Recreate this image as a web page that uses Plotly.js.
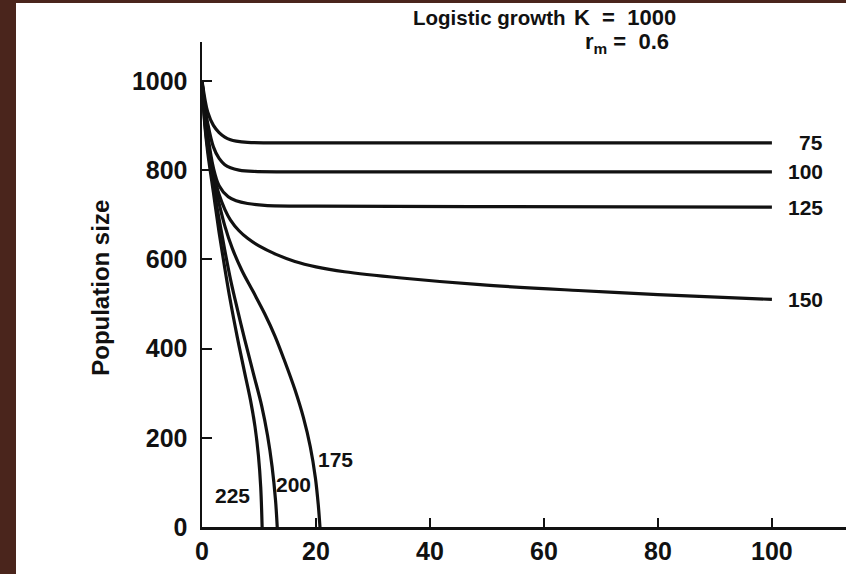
<!DOCTYPE html>
<html>
<head>
<meta charset="utf-8">
<script src="https://cdn.plot.ly/plotly-3.0.1.min.js"></script>
<style>
  html, body { margin: 0; padding: 0; background: #4a251c; width: 846px; height: 574px; overflow: hidden; }
  #chart { position: absolute; left: 16px; top: 3px; width: 830px; height: 571px; background: #fff; }
</style>
</head>
<body>
<div id="chart"></div>
<script>
// Harvest levels (curve labels)
const harvestLabels = ["75", "100", "125", "150", "175", "200", "225"];

// Time values and population size, one pair per curve
const t75  = [0, 0.5, 1, 2, 3, 4, 5, 6, 8, 12, 40, 70, 100];
const n75  = [1000, 960, 930, 900, 884, 874, 868, 865, 862, 861, 861, 861, 861];

const t100 = [0, 0.5, 1, 2, 3, 4, 5, 6.5, 9, 15, 40, 70, 100];
const n100 = [1000, 945, 905, 852, 826, 812, 805, 800, 797, 796, 796, 796, 796];

const t125 = [0, 0.5, 1, 2, 3, 4.6, 6, 8, 11, 20, 50, 100];
const n125 = [1000, 935, 880, 805, 765, 740, 731, 725, 721, 719, 718, 717];

const t150 = [0, 0.5, 1, 2, 3, 4, 5, 6.5, 8, 10, 13, 16.3, 20, 25, 35, 48.8, 66, 80, 100];
const n150 = [1000, 925, 868, 795, 745, 712, 688, 664, 647, 630, 611, 595, 583, 572, 558, 543, 530, 521, 510];

const t175 = [0, 0.5, 1, 2, 3, 4, 5.3, 7, 9, 11, 12.8, 14.5, 16.3, 17.8, 19, 19.9, 20.4, 20.7];
const n175 = [1000, 915, 860, 782, 725, 675, 625, 575, 527, 478, 428, 372, 308, 245, 180, 110, 50, 0];

const t200 = [0, 0.5, 1, 2, 3, 4, 5, 5.8, 7.5, 9, 10.5, 11.5, 12.3, 12.9, 13.2];
const n200 = [1000, 905, 850, 765, 690, 620, 555, 510, 420, 345, 270, 205, 135, 60, 0];

const t225 = [0, 0.5, 1, 2, 3, 4, 4.9, 6.2, 7.5, 8.5, 9.3, 9.9, 10.3, 10.55];
const n225 = [1000, 900, 840, 750, 660, 580, 512, 425, 345, 285, 225, 160, 90, 0];

// Label anchor points (data coordinates)
const endLabelX = 109.3;
const endLabelY = [861, 796, 717, 510];
const lowLabelX = [23.5, 16.1, 5.4];
const lowLabelY = [152, 96, 70];

// Axis ticks
const xTicks = [0, 20, 40, 60, 80, 100];
const yTicks = [0, 200, 400, 600, 800, 1000];

const FONT = "'Liberation Sans', Arial, Helvetica, sans-serif";
const INK = "#111111";
const NB = "\u00A0";

const series = [[t75, n75], [t100, n100], [t125, n125], [t150, n150], [t175, n175], [t200, n200], [t225, n225]];
const traces = series.map((s, i) => ({
  x: s[0], y: s[1], type: "scatter", mode: "lines",
  name: harvestLabels[i],
  line: { color: INK, width: 3.2, shape: "spline", smoothing: 1 },
  hoverinfo: "skip", cliponaxis: false
}));

const annotations = [];
for (let i = 0; i < 4; i++) {
  annotations.push({
    x: endLabelX, y: endLabelY[i], xref: "x", yref: "y",
    text: harvestLabels[i], showarrow: false, xanchor: "right", yanchor: "middle",
    font: { family: FONT, size: 21, color: INK, weight: "bold" }
  });
}
for (let i = 0; i < 3; i++) {
  annotations.push({
    x: lowLabelX[i], y: lowLabelY[i], xref: "x", yref: "y",
    text: harvestLabels[4 + i], showarrow: false, xanchor: "center", yanchor: "middle",
    font: { family: FONT, size: 21, color: INK, weight: "bold" }
  });
}

const layout = {
  width: 830, height: 571,
  margin: { l: 186, r: 0, t: 39, b: 47, pad: 0 },
  paper_bgcolor: "#ffffff", plot_bgcolor: "#ffffff",
  showlegend: false,
  font: { family: FONT, color: INK },
  xaxis: {
    range: [0, 113], tickvals: xTicks, ticktext: xTicks.map(String),
    showline: true, linecolor: INK, linewidth: 2.5,
    ticks: "inside", ticklen: 9, tickwidth: 2, tickcolor: INK,
    showgrid: false, zeroline: false,
    tickfont: { family: FONT, size: 25, color: INK, weight: "bold" },
    ticklabelstandoff: 0
  },
  yaxis: {
    range: [0, 1087], tickvals: yTicks, ticktext: yTicks.map(String),
    showline: true, linecolor: INK, linewidth: 2.5,
    ticks: "inside", ticklen: 10, tickwidth: 2, tickcolor: INK,
    showgrid: false, zeroline: false,
    tickfont: { family: FONT, size: 25, color: INK, weight: "bold" },
    ticklabelstandoff: 7
  },
  annotations: annotations.concat([
    { x: -0.157, y: 0.493, xref: "paper", yref: "paper", text: "Population size",
      textangle: -90, showarrow: false, xanchor: "center", yanchor: "middle",
      font: { family: FONT, size: 24, color: INK, weight: "bold" } },
    { x: 0.568, y: 1.0, xref: "paper", yref: "paper", yanchor: "middle", yshift: 25,
      text: "Logistic growth", showarrow: false, xanchor: "right",
      font: { family: FONT, size: 20.5, color: INK, weight: "bold" } },
    { x: 0.575, y: 1.0, xref: "paper", yref: "paper", yanchor: "middle", yshift: 25,
      text: "K" + NB + NB + "=" + NB + NB + "1000", showarrow: false, xanchor: "left",
      font: { family: FONT, size: 22, color: INK, weight: "bold" } },
    { x: 0.592, y: 1.0, xref: "paper", yref: "paper", yanchor: "middle", yshift: -1,
      text: "r<sub>m</sub>" + NB + "=" + NB + NB + "0.6", showarrow: false, xanchor: "left",
      font: { family: FONT, size: 22, color: INK, weight: "bold" } }
  ])
};

Plotly.newPlot("chart", traces, layout, { displayModeBar: false, staticPlot: true });
</script>
</body>
</html>
